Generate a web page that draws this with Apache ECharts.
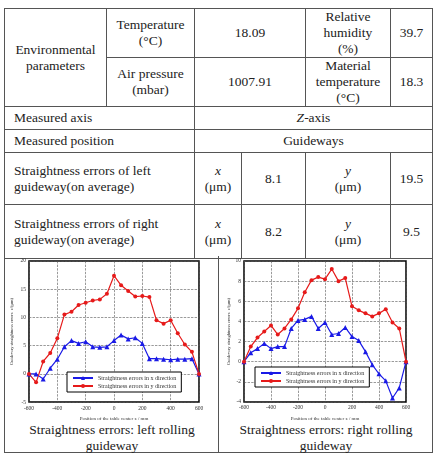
<!DOCTYPE html>
<html>
<head>
<meta charset="utf-8">
<script src="https://cdn.jsdelivr.net/npm/echarts@6/dist/echarts.min.js"></script>
<style>
  body { margin: 0; background: #fff; color: #222; font-family: 'Liberation Serif', serif; }
  #tbl { position: absolute; left: 4px; top: 8px; width: 428px; border-collapse: collapse; table-layout: fixed; font-size: 13.5px; line-height: 16px; }
  #tbl td { border: 1px solid #555; text-align: center; padding: 0; vertical-align: middle; font-family: 'Liberation Serif', serif; }
  #tbl td.l { text-align: left; padding-left: 9px; }
  #bottom { position: absolute; left: 4px; top: 256px; width: 427px; height: 196px; border: 1px solid #555; border-top: none; }
  #divider { position: absolute; left: 213px; top: 0; width: 1px; height: 196px; background: #555; }
  .cap { position: absolute; top: 166px; width: 214px; text-align: center; font-size: 13.5px; line-height: 16px; font-family: 'Liberation Serif', serif; }
  #chart { position: absolute; left: 0; top: 256px; width: 439px; height: 170px; }
</style>
</head>
<body>
<table id="tbl">
  <colgroup><col style="width:102px"><col style="width:88px"><col style="width:47px"><col style="width:64px"><col style="width:85px"><col style="width:42px"></colgroup>
  <tr style="height:48px"><td rowspan="2">Environmental<br>parameters</td><td>Temperature<br>(°C)</td><td colspan="2">18.09</td><td>Relative<br>humidity<br>(%)</td><td>39.7</td></tr>
  <tr style="height:48px"><td>Air pressure<br>(mbar)</td><td colspan="2">1007.91</td><td>Material<br>temperature<br>(°C)</td><td>18.3</td></tr>
  <tr style="height:23px"><td class="l" colspan="2">Measured axis</td><td colspan="4"><i>Z</i>-axis</td></tr>
  <tr style="height:23px"><td class="l" colspan="2">Measured position</td><td colspan="4">Guideways</td></tr>
  <tr style="height:52px"><td class="l" colspan="2">Straightness errors of left<br>guideway(on average)</td><td><i>x</i><br>(μm)</td><td>8.1</td><td><i>y</i><br>(μm)</td><td>19.5</td></tr>
  <tr style="height:54px"><td class="l" colspan="2">Straightness errors of right<br>guideway(on average)</td><td><i>x</i><br>(μm)</td><td>8.2</td><td><i>y</i><br>(μm)</td><td>9.5</td></tr>
</table>
<div id="bottom">
  <div id="divider"></div>
  <div class="cap" style="left:0">Straightness errors: left rolling<br>guideway</div>
  <div class="cap" style="left:214px">Straightness errors: right rolling<br>guideway</div>
</div>
<div id="chart"></div>
<script>
// table center position z (mm)
const positions = [-600, -550, -500, -450, -400, -350, -300, -250, -200, -150, -100, -50, 0,
  50, 100, 150, 200, 250, 300, 350, 400, 450, 500, 550, 600];
// left rolling guideway
const leftX = [0, 0, -0.9, 1.0, 2.6, 4.8, 5.9, 5.4, 5.7, 4.8, 4.7, 4.8, 5.9,
  6.9, 6.2, 6.4, 5.4, 2.7, 2.7, 2.6, 2.5, 2.6, 2.6, 2.7, 0];
const leftY = [0, -1.5, 2.2, 3.7, 6.3, 10.5, 11.0, 12.2, 12.6, 13.0, 13.2, 14.2, 17.4,
  15.7, 14.7, 13.7, 13.8, 13.6, 9.5, 8.9, 9.5, 7.2, 5.2, 3.9, 0];
// right rolling guideway
const rightX = [0, 0.9, 1.3, 1.8, 1.3, 1.5, 1.5, 3.3, 4.1, 4.2, 4.5, 3.3, 3.9,
  2.7, 2.8, 3.4, 2.5, 2.1, 1.0, -0.3, -1.2, -1.9, -3.6, -2.6, 0];
const rightY = [0, 1.5, 2.4, 3.0, 3.6, 2.7, 3.3, 4.2, 5.3, 6.9, 8.1, 8.4, 8.2,
  9.2, 8.0, 8.3, 5.5, 5.1, 4.8, 4.5, 4.8, 5.2, 3.9, 3.3, 0];

const nameX = 'Straightness errors in x direction';
const nameY = 'Straightness errors in y direction';
const font = 'Liberation Serif';

function pairs(vals) {
  return positions.map((p, i) => [p, vals[i]]);
}

function xAxisFor(idx) {
  return {
    gridIndex: idx, type: 'value', min: -600, max: 600, interval: 200,
    name: 'Position of the table center z / mm', nameLocation: 'middle', nameGap: 12,
    nameTextStyle: { fontSize: 5, fontFamily: font, color: '#333' },
    axisLine: { show: false }, axisTick: { show: false },
    axisLabel: { fontSize: 5.5, fontFamily: font, color: '#333', margin: 3 },
    splitLine: { lineStyle: { type: 'dashed', color: '#555', width: 0.6 } }
  };
}

function yAxisFor(idx, min, max, step, gap) {
  return {
    gridIndex: idx, type: 'value', min: min, max: max, interval: step,
    name: 'Guideway straightness errors  e/(μm)', nameLocation: 'middle', nameGap: gap,
    nameTextStyle: { fontSize: 4.5, fontFamily: font, color: '#333' },
    axisLine: { show: false }, axisTick: { show: false },
    axisLabel: { fontSize: 5.5, fontFamily: font, color: '#333', margin: 3 },
    splitLine: { lineStyle: { type: 'dashed', color: '#555', width: 0.6 } }
  };
}

function lineSeries(name, idx, vals, color, symbol, size) {
  return {
    name: name, type: 'line', xAxisIndex: idx, yAxisIndex: idx,
    data: pairs(vals), symbol: symbol, symbolSize: size,
    lineStyle: { color: color, width: 1.2 }, itemStyle: { color: color }
  };
}

function legendAt(left, top) {
  return {
    left: left, top: top, orient: 'vertical', data: [nameX, nameY],
    itemWidth: 20, itemHeight: 5, itemGap: 2, padding: [3, 5, 3, 5],
    borderColor: '#000', borderWidth: 1, backgroundColor: '#fff',
    textStyle: { fontSize: 6, fontFamily: font, color: '#333' },
    selectedMode: false
  };
}

const chart = echarts.init(document.getElementById('chart'));
chart.setOption({
  animation: false,
  grid: [
    { left: 29, top: 5, width: 170, height: 145, show: true, borderColor: '#000', borderWidth: 1.5 },
    { left: 244, top: 5, width: 162, height: 141, show: true, borderColor: '#000', borderWidth: 1.5 }
  ],
  legend: [legendAt(67, 116), legendAt(255, 111)],
  xAxis: [xAxisFor(0), xAxisFor(1)],
  yAxis: [yAxisFor(0, -5, 20, 5, 15), yAxisFor(1, -4, 10, 2, 13)],
  series: [
    lineSeries(nameX, 0, leftX, '#1a1ae6', 'triangle', 5),
    lineSeries(nameY, 0, leftY, '#e61a1a', 'circle', 4),
    lineSeries(nameX, 1, rightX, '#1a1ae6', 'triangle', 5),
    lineSeries(nameY, 1, rightY, '#e61a1a', 'circle', 4)
  ]
});
</script>
</body>
</html>
